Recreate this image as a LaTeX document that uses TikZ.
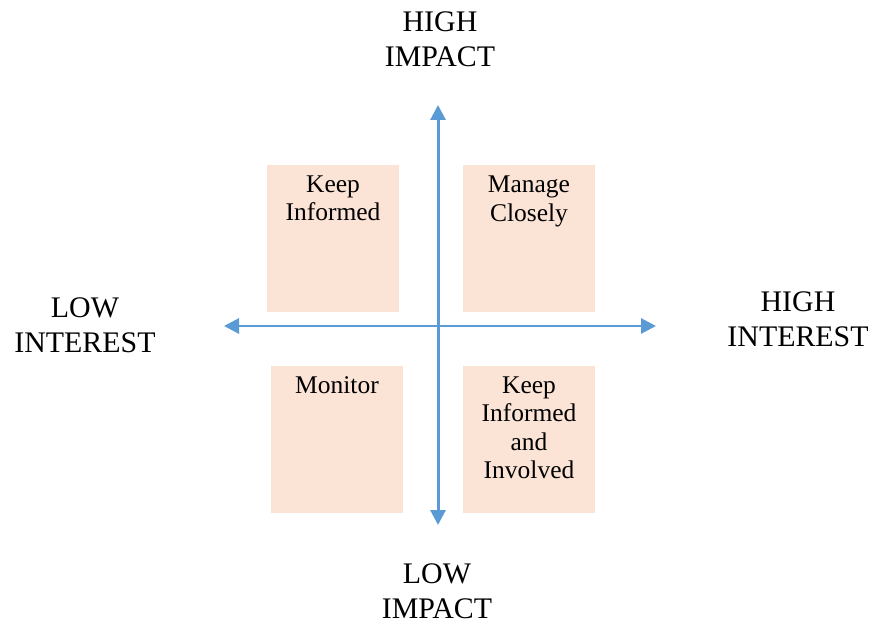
\documentclass[tikz,border=0pt]{standalone}
\usepackage{fontspec}
\setmainfont{Liberation Serif}
\usepackage{tikz}
\usetikzlibrary{arrows.meta}

\definecolor{axisblue}{HTML}{5B9BD5}
\definecolor{boxpeach}{HTML}{FBE3D6}

\tikzset{
  axis/.style={draw=axisblue, line width=1.7pt, {Triangle[length=0.3cm,width=0.3cm]}-{Triangle[length=0.3cm,width=0.3cm]}},
  quadrant/.style={fill=boxpeach, draw=none, minimum width=2.64cm, minimum height=2.94cm, inner sep=0pt},
  quadtext/.style={anchor=north, align=center, font=\fontsize{14.5}{16.2}\selectfont, inner sep=0pt},
  axistext/.style={align=center, font=\fontsize{17}{19.8}\selectfont}
}

\begin{document}
\begin{tikzpicture}
    \useasboundingbox (0,0) rectangle (17.44,12.46);

    % quadrants
    \draw (6.66,7.70) node[quadrant] (keepinf) {};
    \draw (10.58,7.69) node[quadrant] (manage) {};
    \draw (6.74,3.67) node[quadrant] (monitor) {};
    \draw (10.58,3.68) node[quadrant] (involved) {};

    \draw (keepinf.north) ++(0,-0.22) node[quadtext] {Keep\\Informed};
    \draw (manage.north) ++(0,-0.22) node[quadtext] {Manage\\Closely};
    \draw (monitor.north) ++(0,-0.22) node[quadtext] {Monitor};
    \draw (involved.north) ++(0,-0.22) node[quadtext] {Keep\\Informed\\and\\Involved};

    % axes
    \coordinate (impacttop) at (8.76,10.36);
    \coordinate (impactbot) at (8.76,1.96);
    \coordinate (interestleft) at (4.48,5.94);
    \coordinate (interestright) at (13.12,5.94);
    \draw[axis] (impactbot) -- (impacttop);
    \draw[axis] (interestleft) -- (interestright);

    % axis labels
    \draw (8.80,11.67) node[axistext] (highimpact) {HIGH\\IMPACT};
    \draw (8.74,0.64) node[axistext] (lowimpact) {LOW\\IMPACT};
    \draw (1.70,5.96) node[axistext] (lowinterest) {LOW\\INTEREST};
    \draw (15.96,6.08) node[axistext] (highinterest) {HIGH\\INTEREST};

\end{tikzpicture}
\end{document}
